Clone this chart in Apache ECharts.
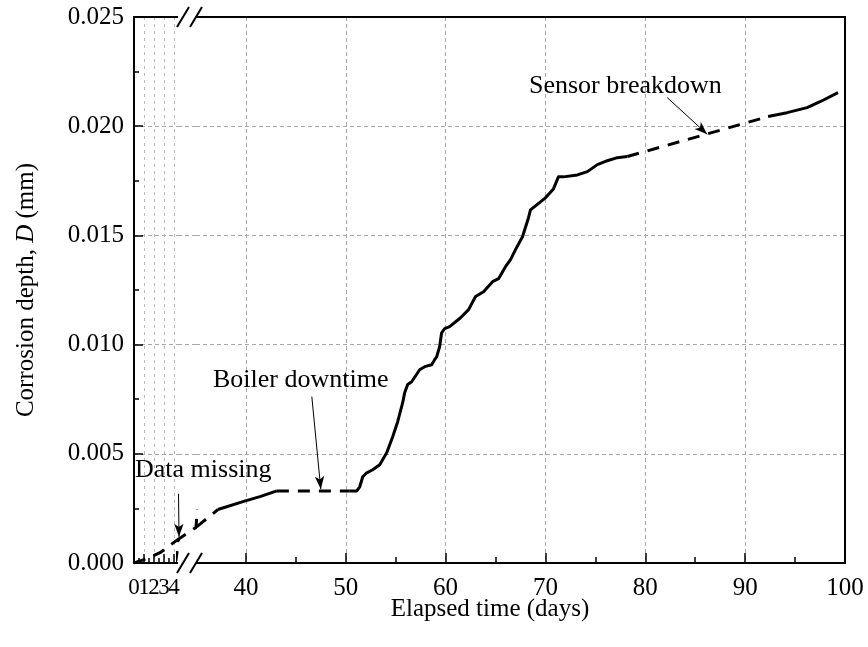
<!DOCTYPE html>
<html><head><meta charset="utf-8">
<script src="https://cdn.jsdelivr.net/npm/echarts@6/dist/echarts.min.js"></script>
<style>html,body{margin:0;padding:0;background:#fff}#c{width:868px;height:647px}</style>
</head><body><div id="c"></div>
<script>
// ---- tick values ----
const leftTicks = [0, 1, 2, 3, 4];
const leftLabelsEven = [0, 2, 4];
const leftLabelsOdd = [1, 3];
const leftMinor = [0.5, 1.5, 2.5, 3.5];
const rightTicks = [40, 50, 60, 70, 80, 90, 100];
const rightMinor = [45, 55, 65, 75, 85, 95];
const yInnerTicks = [0.005, 0.010, 0.015, 0.020];

// ---- data (elapsed days, corrosion depth mm) ----
const missingDays  = [0, 1.3, 2.6, 4.4, 35.0, 35.4, 37.2];
const missingDepth = [0, 0.00020, 0.00047, 0.00108, 0.00163, 0.00178, 0.00245];
const run1Days  = [37.2, 37.4, 39.7, 41.4, 43.1];
const run1Depth = [0.00245, 0.00249, 0.00281, 0.00304, 0.00330];
const downDays  = [43.1, 50.4];
const downDepth = [0.00330, 0.00330];
const run2Days  = [50.4, 51.1, 51.4, 51.7, 52.1, 52.7, 53.4, 54.1, 54.7, 55.2, 55.7, 55.9, 56.2, 56.6, 57.4, 57.9, 58.6, 58.9, 59.1, 59.4, 59.6, 59.9, 60.4, 61.5, 62.3, 63.0, 63.8, 64.7, 65.3, 66.0, 66.5, 67.0, 67.7, 68.3, 68.5, 70.0, 70.8, 71.3, 71.8, 73.2, 74.2, 75.2, 76.2, 77.2, 78.2];
const run2Depth = [0.00330, 0.00330, 0.00349, 0.00395, 0.00413, 0.00427, 0.00450, 0.00505, 0.00578, 0.00647, 0.00734, 0.00780, 0.00817, 0.00830, 0.00885, 0.00899, 0.00908, 0.00931, 0.00944, 0.00990, 0.01054, 0.01073, 0.01082, 0.01123, 0.01160, 0.01220, 0.01242, 0.01288, 0.01302, 0.01357, 0.01389, 0.01435, 0.01494, 0.01581, 0.01617, 0.01672, 0.01713, 0.01768, 0.01768, 0.01777, 0.01792, 0.01824, 0.01842, 0.01856, 0.01861];
const sensorDays  = [78.2, 92.3];
const sensorDepth = [0.01861, 0.02044];
const run3Days  = [92.3, 94.2, 96.2, 97.5, 99.3];
const run3Depth = [0.02044, 0.02062, 0.02085, 0.02112, 0.02154];

// annotation arrows: [fromDay, fromDepth, toDay, toDepth]
const missingArrow = [5.3, 0.00317, 6.1, 0.00120];
const boilerArrow  = [46.6, 0.00762, 47.5, 0.00338];
const sensorArrow  = [82.2, 0.02131, 86.2, 0.01963];

const FONT = '"Liberation Serif", "Times New Roman", serif';
const zip = (a, b) => a.map((v, i) => [v, b[i]]);

const chart = echarts.init(document.getElementById('c'), null, {renderer: 'canvas'});

const gridTop = 17, gridH = 546;
const grids = [
  {left: 134, top: gridTop, width: 44, height: gridH},
  {left: 178, top: gridTop, width: 18, height: gridH},
  {left: 196, top: gridTop, width: 649, height: gridH},
  {left: 134, top: gridTop, width: 44, height: gridH},
  {left: 196, top: gridTop, width: 649, height: gridH}
];

const axisLineStyle = {color: '#000', width: 2};
const splitStyle = {color: '#a8a8a8', width: 1, type: [4, 3]};
const labelStyle = {color: '#000', fontFamily: FONT, fontSize: 25};
const smallLabel = {color: '#000', fontFamily: FONT, fontSize: 23, margin: 13,
                    showMinLabel: true, showMaxLabel: true, hideOverlap: false};

const xAxes = [
  // 0: left segment main
  {gridIndex: 0, type: 'value', min: 0, max: 4.4, position: 'bottom',
   axisLine: {show: true, lineStyle: axisLineStyle, onZero: false},
   axisTick: {show: true, inside: true, length: 9, customValues: leftTicks, lineStyle: {color: '#000', width: 1.5}},
   axisLabel: Object.assign({show: true, customValues: leftLabelsEven}, smallLabel),
   splitLine: {show: true, lineStyle: {color: '#b8b8b8', width: 1, type: [3, 4]}}},
  // 1: left segment top border
  {gridIndex: 0, type: 'value', min: 0, max: 4.4, position: 'top',
   axisLine: {show: true, lineStyle: axisLineStyle, onZero: false},
   axisTick: {show: false}, axisLabel: {show: false}, splitLine: {show: false}},
  // 2: gap
  {gridIndex: 1, type: 'value', min: 4.4, max: 35, show: false},
  // 3: right segment main
  {gridIndex: 2, type: 'value', min: 35, max: 100, position: 'bottom',
   axisLine: {show: true, lineStyle: axisLineStyle, onZero: false},
   axisTick: {show: true, inside: true, length: 10, customValues: rightTicks, lineStyle: {color: '#000', width: 1.5}},
   axisLabel: {show: true, customValues: rightTicks, margin: 13, showMinLabel: true, showMaxLabel: true, hideOverlap: false, ...labelStyle},
   splitLine: {show: true, lineStyle: splitStyle}},
  // 4: right segment top border
  {gridIndex: 2, type: 'value', min: 35, max: 100, position: 'top',
   axisLine: {show: true, lineStyle: axisLineStyle, onZero: false},
   axisTick: {show: false}, axisLabel: {show: false}, splitLine: {show: false}},
  // 5: left minor ticks + odd labels
  {gridIndex: 3, type: 'value', min: 0, max: 4.4, position: 'bottom',
   axisLine: {show: false},
   axisTick: {show: true, inside: true, length: 5, customValues: leftMinor, lineStyle: {color: '#000', width: 1.5}},
   axisLabel: Object.assign({show: true, customValues: leftLabelsOdd}, smallLabel),
   splitLine: {show: false}},
  // 6: right minor ticks
  {gridIndex: 4, type: 'value', min: 35, max: 100, position: 'bottom',
   axisLine: {show: false},
   axisTick: {show: true, inside: true, length: 6, customValues: rightMinor, lineStyle: {color: '#000', width: 1.5}},
   axisLabel: {show: false}, splitLine: {show: false}}
];

const yAxes = [
  // 0: left axis
  {gridIndex: 0, type: 'value', min: 0, max: 0.025, interval: 0.005, position: 'left',
   axisLine: {show: true, lineStyle: axisLineStyle, onZero: false},
   axisTick: {show: true, inside: true, length: 9, lineStyle: {color: '#000', width: 1.5}},
   minorTick: {show: true, splitNumber: 2, length: 5, lineStyle: {color: '#000', width: 1.5}},
   axisLabel: {show: true, margin: 10, formatter: v => v.toFixed(3), showMinLabel: true, showMaxLabel: true, ...labelStyle},
   splitLine: {show: true, lineStyle: splitStyle},
   name: '{a|Corrosion depth, }{i|D}{a| (mm)}',
   nameLocation: 'middle', nameGap: 95, nameRotate: 90,
   nameTextStyle: {rich: {
     a: {fontFamily: FONT, fontSize: 25, color: '#000'},
     i: {fontFamily: FONT, fontSize: 25, color: '#000', fontStyle: 'italic'}
   }}},
  // 1: gap (split lines only)
  {gridIndex: 1, type: 'value', min: 0, max: 0.025, interval: 0.005,
   axisLine: {show: false}, axisTick: {show: false, customValues: yInnerTicks},
   axisLabel: {show: false}, splitLine: {show: true, lineStyle: splitStyle}},
  // 2: right border
  {gridIndex: 2, type: 'value', min: 0, max: 0.025, interval: 0.005, position: 'right',
   axisLine: {show: true, lineStyle: axisLineStyle, onZero: false},
   axisTick: {show: false}, axisLabel: {show: false},
   splitLine: {show: true, lineStyle: splitStyle}},
  // 3: left minor helper
  {gridIndex: 3, type: 'value', min: 0, max: 0.025, show: false},
  // 4: right minor helper
  {gridIndex: 4, type: 'value', min: 0, max: 0.025, show: false}
];

const solid = {color: '#000', width: 3, type: 'solid', cap: 'butt', join: 'round'};
const dashed = {color: '#000', width: 3, type: [12, 9], cap: 'butt'};
const arrowLine = (a) => ({
  silent: true, animation: false,
  symbol: ['none', 'arrow'], symbolSize: [7, 13],
  label: {show: false},
  lineStyle: {color: '#000', width: 1, type: 'solid'},
  emphasis: {disabled: true},
  data: [[{coord: [a[0], a[1]]}, {coord: [a[2], a[3]]}]]
});
const base = {type: 'line', symbol: 'none', showSymbol: false, clip: true, silent: true, animation: false, z: 5};

const series = [
  Object.assign({}, base, {xAxisIndex: 0, yAxisIndex: 0, data: zip(missingDays, missingDepth), lineStyle: dashed}),
  Object.assign({}, base, {xAxisIndex: 2, yAxisIndex: 1, data: zip(missingDays, missingDepth), lineStyle: dashed, markLine: arrowLine(missingArrow)}),
  Object.assign({}, base, {xAxisIndex: 3, yAxisIndex: 2, data: zip(missingDays, missingDepth), lineStyle: dashed}),
  Object.assign({}, base, {xAxisIndex: 3, yAxisIndex: 2, data: zip(run1Days, run1Depth), lineStyle: solid}),
  Object.assign({}, base, {xAxisIndex: 3, yAxisIndex: 2, data: zip(downDays, downDepth), lineStyle: dashed, markLine: arrowLine(boilerArrow)}),
  Object.assign({}, base, {xAxisIndex: 3, yAxisIndex: 2, data: zip(run2Days, run2Depth), lineStyle: solid}),
  Object.assign({}, base, {xAxisIndex: 3, yAxisIndex: 2, data: zip(sensorDays, sensorDepth), lineStyle: dashed, markLine: arrowLine(sensorArrow)}),
  Object.assign({}, base, {xAxisIndex: 3, yAxisIndex: 2, data: zip(run3Days, run3Depth), lineStyle: solid})
];

// axis-break marks (decoration)
const brk = [];
[17, 563].forEach(yc => {
  brk.push({type: 'rect', shape: {x: 178, y: yc - 2, width: 18, height: 4}, style: {fill: '#fff'}, z: 50});
  [183, 196].forEach(xc => {
    brk.push({type: 'line', shape: {x1: xc - 6, y1: yc + 10, x2: xc + 6, y2: yc - 10},
      style: {stroke: '#000', lineWidth: 2}, z: 51});
  });
});

const txt = (text, x, y, size, align) => ({
  type: 'text', x: x, y: y, z: 60,
  style: {text: text, fontFamily: FONT, fontSize: size, fill: '#000', align: align || 'left', verticalAlign: 'middle'}
});

chart.setOption({
  animation: false,
  backgroundColor: '#fff',
  grid: grids,
  xAxis: xAxes,
  yAxis: yAxes,
  series: series,
  graphic: brk.concat([
    txt('Data missing', 135, 470, 26),
    txt('Boiler downtime', 213, 380, 26),
    txt('Sensor breakdown', 529, 86, 26),
    txt('Elapsed time (days)', 490, 609, 25, 'center')
  ])
});
</script>
</body></html>
